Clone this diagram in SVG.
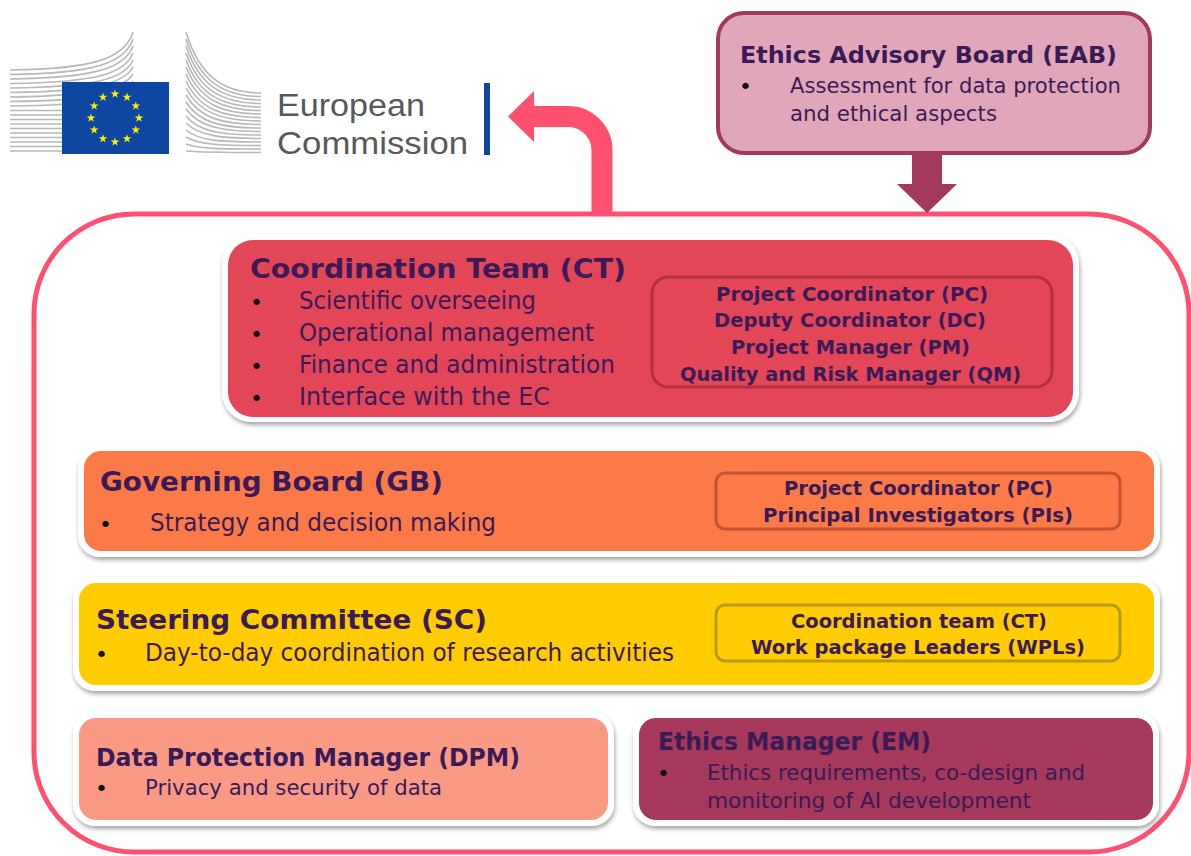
<svg xmlns="http://www.w3.org/2000/svg" width="1191" height="856" viewBox="0 0 1191 856">
<defs>
<filter id="sh" x="-5%" y="-10%" width="110%" height="130%">
<feDropShadow dx="1" dy="3" stdDeviation="2" flood-color="#000" flood-opacity="0.35"/>
</filter>
<path id="star" d="M0,-4.6 L1.05,-1.44 L4.37,-1.43 L1.69,0.55 L2.7,3.72 L0,1.78 L-2.7,3.72 L-1.69,0.55 L-4.37,-1.43 L-1.05,-1.44 Z" fill="#FFED00"/>
<style>
.frame{fill:#fff;filter:url(#sh);}
.t{font-family:"DejaVu Sans","Liberation Sans",sans-serif;fill:#3B1B57;}
.b{font-weight:bold;}
.dot{font-family:"DejaVu Sans",sans-serif;fill:#111;font-size:22px;}
.bl{fill:none;stroke:#B8B8B8;stroke-width:1.6;}
.inner{fill:none;stroke-width:3;}
.ec{font-family:"Liberation Sans","Open Sans",sans-serif;font-size:31px;fill:#58595B;}
</style>
</defs>
<rect width="1191" height="856" fill="#fff"/>

<g id="ec-logo">
<g class="bl">
<path d="M10 70 C95 69 125 58 133 32"/>
<path d="M10 74.5 C95 73.5 125 63 133 39"/>
<path d="M10 79 C95 78 125 68 133 46"/>
<path d="M10 83.5 C95 82.5 125 74 133 53"/>
<path d="M10 88 C95 87 125 79 133 60"/>
<path d="M10 92.5 C95 91.5 125 83 133 67"/>
<path d="M10 97 C95 96 125 88 133 74"/>
<path d="M10 101.5 C95 100.5 125 93 133 81"/>
<path d="M10 106 C95 105 125 99 133 88"/>
<path d="M10 110.5 H133"/>
<path d="M10 115 H133"/>
<path d="M10 119.5 H133"/>
<path d="M10 124 H133"/>
<path d="M10 128.5 H133"/>
<path d="M10 133 H133"/>
<path d="M10 137.5 H133"/>
<path d="M10 142 H133"/>
<path d="M10 146.5 H133"/>
<path d="M10 151 H133"/>
<path d="M186 32 C199 75 222 93 261 93"/>
<path d="M186 39 C199 80 222 96.5 261 96.5"/>
<path d="M186 46 C199 85 222 100 261 100"/>
<path d="M186 53 C199 90 222 103.5 261 103.5"/>
<path d="M186 60 C199 95 222 107 261 107"/>
<path d="M186 67 C199 99 222 110.5 261 110.5"/>
<path d="M186 74 C199 104 222 114 261 114"/>
<path d="M186 81 C199 109 222 117.5 261 117.5"/>
<path d="M186 88 C199 113 222 121 261 121"/>
<path d="M186 95 C199 118 222 124.5 261 124.5"/>
<path d="M186 102 C199 123 222 128 261 128"/>
<path d="M186 109 C199 127 222 131.5 261 131.5"/>
<path d="M186 116 C199 132 222 135 261 135"/>
<path d="M186 123 C199 136 222 138.5 261 138.5"/>
<path d="M186 130 C199 141 222 142 261 142"/>
<path d="M186 137 C199 145 222 145.5 261 145.5"/>
<path d="M186 144 C199 149 222 149 261 149"/>
<path d="M186 151 C199 152 222 152.5 261 152.5"/>
</g>
<rect x="62" y="82" width="107" height="72" fill="#0E47A1"/>
<use href="#star" x="115" y="94"/>
<use href="#star" x="127" y="97.2"/>
<use href="#star" x="135.8" y="106"/>
<use href="#star" x="139" y="118"/>
<use href="#star" x="135.8" y="130"/>
<use href="#star" x="127" y="138.8"/>
<use href="#star" x="115" y="142"/>
<use href="#star" x="103" y="138.8"/>
<use href="#star" x="94.2" y="130"/>
<use href="#star" x="91" y="118"/>
<use href="#star" x="94.2" y="106"/>
<use href="#star" x="103" y="97.2"/>
<text class="ec" x="277" y="116" textLength="148" lengthAdjust="spacingAndGlyphs">European</text>
<text class="ec" x="277" y="154" textLength="191" lengthAdjust="spacingAndGlyphs">Commission</text>
<rect x="484" y="83" width="6" height="72" fill="#0E47A1"/>
</g>

<g id="project-frame">
<rect x="34" y="214" width="1155" height="638" rx="100" fill="none" stroke="#FF5070" stroke-width="5"/>
</g>

<g id="connectors">
<path d="M602 214 V151 A34 34 0 0 0 568 116.5 H530" fill="none" stroke="#FF5070" stroke-width="21"/>
<polygon points="534,91 508,116.5 534,142" fill="#FF5070"/>
<rect x="912" y="150" width="30" height="35" fill="#A33A5E"/>
<polygon points="897,184 957,184 927,213" fill="#A33A5E"/>
</g>

<g id="eab">
<rect x="718" y="13" width="432" height="140" rx="26" fill="#E0A7BB" stroke="#A33A5E" stroke-width="4"/>
<text class="t b" x="740" y="63" font-size="23" textLength="377" lengthAdjust="spacingAndGlyphs">Ethics Advisory Board (EAB)</text>
<text class="dot" x="739" y="94">•</text>
<text class="t" x="790" y="93" font-size="22" textLength="331" lengthAdjust="spacingAndGlyphs">Assessment for data protection</text>
<text class="t" x="790" y="121" font-size="22" textLength="207" lengthAdjust="spacingAndGlyphs">and ethical aspects</text>
</g>

<g id="ct">
<rect class="frame" x="222" y="234" width="857" height="188" rx="30"/>
<rect x="228" y="240" width="845" height="177" rx="25" fill="#E34657"/>
<text class="t b" x="250" y="278" font-size="27" textLength="376" lengthAdjust="spacingAndGlyphs">Coordination Team (CT)</text>
<text class="dot" x="250" y="310">•</text>
<text class="t" x="299" y="309" font-size="25" textLength="237" lengthAdjust="spacingAndGlyphs">Scientific overseeing</text>
<text class="dot" x="250" y="342">•</text>
<text class="t" x="299" y="341" font-size="25" textLength="295" lengthAdjust="spacingAndGlyphs">Operational management</text>
<text class="dot" x="250" y="374">•</text>
<text class="t" x="299" y="373" font-size="25" textLength="316" lengthAdjust="spacingAndGlyphs">Finance and administration</text>
<text class="dot" x="250" y="406">•</text>
<text class="t" x="299" y="405" font-size="25" textLength="251" lengthAdjust="spacingAndGlyphs">Interface with the EC</text>
<rect class="inner" x="652" y="277" width="400" height="110" rx="16" stroke="#B3303F"/>
<text class="t b" x="716" y="301" font-size="19" textLength="272" lengthAdjust="spacingAndGlyphs">Project Coordinator (PC)</text>
<text class="t b" x="714" y="327" font-size="19" textLength="272" lengthAdjust="spacingAndGlyphs">Deputy Coordinator (DC)</text>
<text class="t b" x="731" y="354" font-size="19" textLength="239" lengthAdjust="spacingAndGlyphs">Project Manager (PM)</text>
<text class="t b" x="680" y="381" font-size="19" textLength="341" lengthAdjust="spacingAndGlyphs">Quality and Risk Manager (QM)</text>
</g>

<g id="gb">
<rect class="frame" x="78" y="445" width="1082" height="112" rx="22"/>
<rect x="84" y="451" width="1070" height="100" rx="17" fill="#FC7A47"/>
<text class="t b" x="100" y="491" font-size="27" textLength="343" lengthAdjust="spacingAndGlyphs">Governing Board (GB)</text>
<text class="dot" x="99" y="532">•</text>
<text class="t" x="150" y="531" font-size="24" textLength="346" lengthAdjust="spacingAndGlyphs">Strategy and decision making</text>
<rect class="inner" x="716" y="473" width="404" height="56" rx="9" stroke="#C2552F"/>
<text class="t b" x="784" y="495" font-size="19" textLength="269" lengthAdjust="spacingAndGlyphs">Project Coordinator (PC)</text>
<text class="t b" x="763" y="522" font-size="19" textLength="310" lengthAdjust="spacingAndGlyphs">Principal Investigators (PIs)</text>
</g>

<g id="sc">
<rect class="frame" x="73" y="577" width="1087" height="114" rx="22"/>
<rect x="79" y="583" width="1075" height="102" rx="17" fill="#FFCC00"/>
<text class="t b" x="96" y="629" font-size="27" textLength="391" lengthAdjust="spacingAndGlyphs">Steering Committee (SC)</text>
<text class="dot" x="95" y="662">•</text>
<text class="t" x="145" y="661" font-size="24" textLength="529" lengthAdjust="spacingAndGlyphs">Day-to-day coordination of research activities</text>
<rect class="inner" x="716" y="605" width="404" height="56" rx="9" stroke="#B39A18"/>
<text class="t b" x="791" y="628" font-size="19" textLength="256" lengthAdjust="spacingAndGlyphs">Coordination  team (CT)</text>
<text class="t b" x="751" y="654" font-size="19" textLength="334" lengthAdjust="spacingAndGlyphs">Work package Leaders (WPLs)</text>
</g>

<g id="dpm">
<rect class="frame" x="73" y="712" width="541" height="114" rx="22"/>
<rect x="79" y="718" width="529" height="102" rx="17" fill="#FA9A85"/>
<text class="t b" x="96" y="766" font-size="25" textLength="424" lengthAdjust="spacingAndGlyphs">Data Protection Manager (DPM)</text>
<text class="dot" x="95" y="796">•</text>
<text class="t" x="145" y="795" font-size="22" textLength="297" lengthAdjust="spacingAndGlyphs">Privacy and security of data</text>
</g>

<g id="em">
<rect class="frame" x="633" y="712" width="526" height="114" rx="22"/>
<rect x="639" y="718" width="514" height="102" rx="17" fill="#A5385B"/>
<text class="t b" x="658" y="750" font-size="25" textLength="273" lengthAdjust="spacingAndGlyphs">Ethics Manager (EM)</text>
<text class="dot" x="657" y="781">•</text>
<text class="t" x="707" y="780" font-size="22" textLength="378" lengthAdjust="spacingAndGlyphs">Ethics requirements, co-design and</text>
<text class="t" x="707" y="808" font-size="22" textLength="324" lengthAdjust="spacingAndGlyphs">monitoring of AI development</text>
</g>
</svg>
